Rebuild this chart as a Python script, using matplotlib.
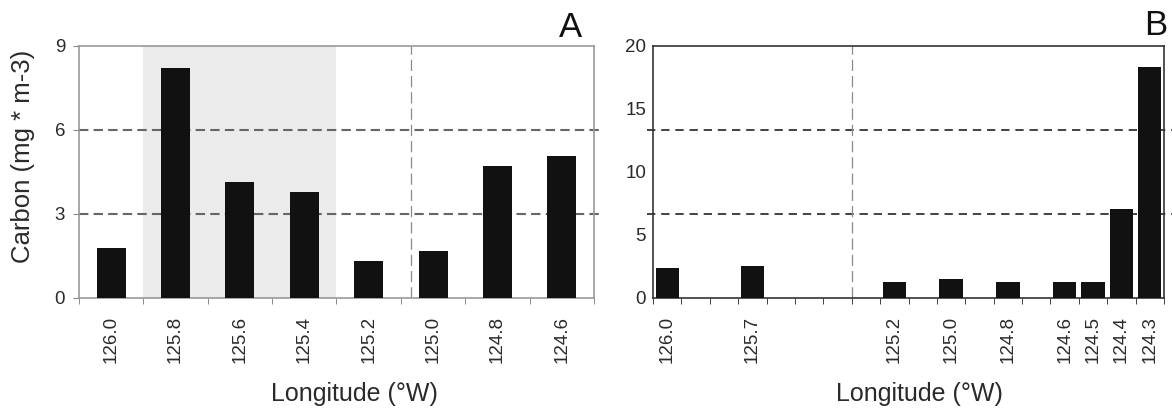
import numpy as np
import matplotlib
matplotlib.use("Agg")
import matplotlib.pyplot as plt

plt.rcParams['font.family'] = ['Liberation Sans', 'DejaVu Sans']

# panel A: transect stations every 0.2 degrees
lon_a = ["126.0", "125.8", "125.6", "125.4", "125.2", "125.0", "124.8", "124.6"]
carbon_a = [1.79, 8.2, 4.16, 3.80, 1.33, 1.68, 4.73, 5.08]
thresholds_a = [3, 6]

# panel B: stations on a 0.1 degree grid from 126.0 to 124.3
lon_b = [126.0, 125.7, 125.2, 125.0, 124.8, 124.6, 124.5, 124.4, 124.3]
carbon_b = [2.35, 2.5, 1.28, 1.47, 1.28, 1.28, 1.28, 7.1, 18.35]
thresholds_b = [6.67, 13.33]

fig = plt.figure(figsize=(11.72, 4.12), dpi=100)
ax_a = fig.add_axes([0.0674, 0.2767, 0.4394, 0.6117])
ax_b = fig.add_axes([0.5572, 0.2767, 0.4360, 0.6117])

text_col = "#2a2a2a"
bar_col = "#111111"

# ---- A ----
xa = np.arange(len(lon_a))
ax_a.axvspan(0.5, 3.5, color="#ebebeb", lw=0, zorder=0)
ax_a.bar(xa, carbon_a, width=0.45, color=bar_col, zorder=3)
for t in thresholds_a:
    ax_a.plot([-0.5, 7.6], [t, t], ls=(0, (4.5, 2.5)), color="#666666",
              lw=1.5, clip_on=False, zorder=2)
ax_a.axvline(4.66, ls=(0, (9, 4)), color="#8a8a8a", lw=0.9, zorder=2)
ax_a.set_xlim(-0.5, 7.5)
ax_a.set_ylim(0, 9)
ax_a.set_yticks([0, 3, 6, 9])
ax_a.set_xticks(xa)
ax_a.set_xticklabels(lon_a, rotation=90)
ax_a.set_xticks(np.arange(-0.5, 8, 1), minor=True)
ax_a.tick_params(axis="x", which="major", length=0, pad=13, labelsize=13.5, labelcolor=text_col)
ax_a.tick_params(axis="x", which="minor", length=4, color="#777777")
ax_a.tick_params(axis="y", length=4, color="#888888", labelsize=13.5, labelcolor=text_col, pad=6)
for s in ax_a.spines.values():
    s.set_color("#999999")
    s.set_linewidth(1.2)
ax_a.set_ylabel("Carbon (mg * m-3)", fontsize=18.5, color=text_col)
ax_a.yaxis.set_label_coords(-0.085, 0.563)
ax_a.set_xlabel("Longitude (°W)", fontsize=18, color=text_col)
ax_a.xaxis.set_label_coords(0.535, -0.335)

# ---- B ----
slots_b = np.round((126.0 - np.array(lon_b)) / 0.1).astype(int)
ax_b.bar(slots_b, carbon_b, width=0.82, color=bar_col, zorder=3)
for t in thresholds_b:
    ax_b.plot([-0.7, 17.8], [t, t], ls=(0, (5, 3.5)), color="#222222",
              lw=1.2, clip_on=False, zorder=2)
ax_b.axvline(6.5, ls=(0, (9, 4)), color="#8a8a8a", lw=0.9, zorder=2)
ax_b.set_xlim(-0.5, 17.5)
ax_b.set_ylim(0, 20)
ax_b.set_yticks([0, 5, 10, 15, 20])
ax_b.set_xticks(slots_b)
ax_b.set_xticklabels([f"{v:.1f}" for v in lon_b], rotation=90)
ax_b.set_xticks(np.arange(-0.5, 18, 1), minor=True)
ax_b.tick_params(axis="x", which="major", length=0, pad=13, labelsize=13.5, labelcolor=text_col)
ax_b.tick_params(axis="x", which="minor", length=4, color="#222222")
ax_b.tick_params(axis="y", length=0, labelsize=13.5, labelcolor=text_col, pad=5)
for s in ax_b.spines.values():
    s.set_color("#333333")
    s.set_linewidth(1.2)
ax_b.set_xlabel("Longitude (°W)", fontsize=18, color=text_col)
ax_b.xaxis.set_label_coords(0.522, -0.335)

fig.text(0.4966, 0.91, "A", fontsize=25, ha="right", va="baseline", color="#111111")
fig.text(0.9957, 0.915, "B", fontsize=25, ha="right", va="baseline", color="#111111")

fig.savefig("out.png", dpi=100)
